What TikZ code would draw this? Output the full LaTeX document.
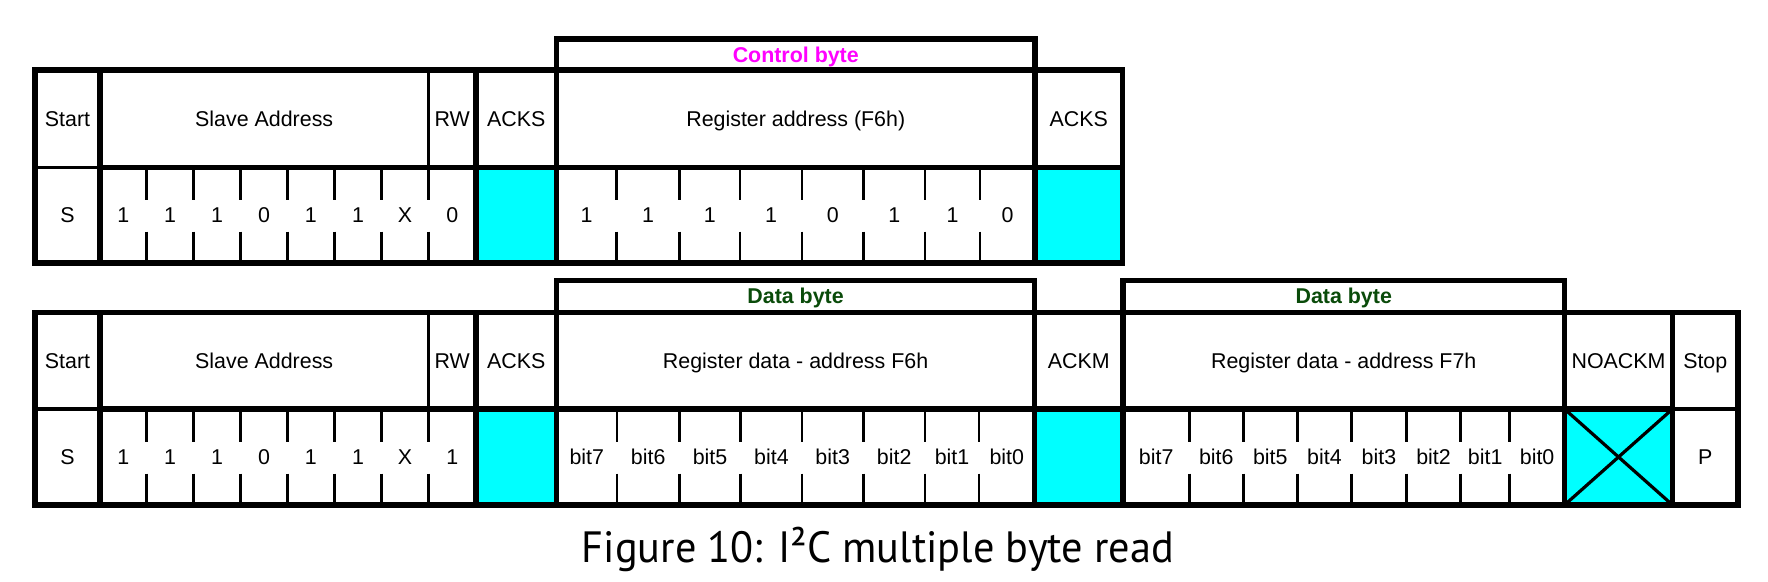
\documentclass[tikz,border=0pt]{standalone}
\usepackage{fontspec}
\setmainfont{Liberation Sans}
\newfontfamily\capfont{PT Sans}
\usepackage{graphicx}
\definecolor{ackcyan}{RGB}{0,255,255}
\definecolor{ctrlmag}{RGB}{255,0,255}
\definecolor{datagreen}{RGB}{10,75,10}
\begin{document}
\begin{tikzpicture}[x=1pt,y=-1pt,
  thickline/.style={line width=5.5pt},
  medline/.style={line width=3.2pt},
  tickline/.style={line width=2.6pt},
  ackfill/.style={fill=ackcyan},
  lbl/.style={font=\fontsize{21.4}{25}\selectfont, inner sep=0pt, text height=15.3pt, text depth=0pt},
  brk/.style={font=\bfseries\fontsize{21.4}{25}\selectfont, inner sep=0pt, text height=15.3pt, text depth=0pt},
]
\useasboundingbox[fill=white] (0,0) rectangle (1768,581);

%% ================= TOP ROW =================
\fill[ackfill] (476,167.5) rectangle (556.5,263);
\fill[ackfill] (1035,167.5) rectangle (1122.5,263);
\foreach \x in {146.7,193.3,240.7,287.3,334.3,381.7,428.3,616.7,679.3,740,802,863.3,925,980}{
  \draw[tickline] (\x,167.5) -- (\x,200);
  \draw[tickline] (\x,231.5) -- (\x,263);
}
\draw[medline] (428.3,70) -- (428.3,167.5);
\draw[medline] (35,167.5) -- (100,167.5);
\draw[thickline] (35,70) rectangle (1122.5,263);
\draw[thickline] (100,167.5) -- (1122.5,167.5);
\foreach \x in {100,476,556.5,1035}{ \draw[thickline] (\x,70) -- (\x,263); }
\draw[thickline] (556.5,70) -- (556.5,39) -- (1035,39) -- (1035,70);

\node[brk, text=ctrlmag] (t-ctrl) at (795.75,54.5) {Control byte};
\node[lbl] (t-start) at (67.5,118.75) {Start};
\node[lbl] (t-slave) at (264.2,118.75) {Slave Address};
\node[lbl] (t-rw) at (452.2,118.75) {RW};
\node[lbl] (t-acks1) at (516.3,118.75) {ACKS};
\node[lbl] (t-reg) at (795.75,118.75) {Register address (F6h)};
\node[lbl] (t-acks2) at (1078.75,118.75) {ACKS};
\node[lbl] (t-s) at (67.5,215.25) {S};
\foreach \x/\v [count=\i] in {123.3/1,170/1,217/1,264/0,310.8/1,358/1,405/X,452.2/0}{
  \node[lbl] (t-a\i) at (\x,215.25) {\v};
}
\foreach \x/\v [count=\i] in {586.6/1,648/1,709.7/1,771/1,832.7/0,894.2/1,952.5/1,1007.5/0}{
  \node[lbl] (t-r\i) at (\x,215.25) {\v};
}

%% ================= BOTTOM ROW =================
\fill[ackfill] (476,409) rectangle (556.7,505);
\fill[ackfill] (1034.5,409) rectangle (1123,505);
\fill[ackfill] (1564.5,409) rectangle (1672.5,505);
\foreach \x in {146.7,193.3,240.7,287.3,334.3,381.7,428.3,617,679.3,740.7,802,863.3,925,979,1189.3,1243.3,1297.2,1351.5,1406.2,1460.7,1509.7}{
  \draw[tickline] (\x,409) -- (\x,441.5);
  \draw[tickline] (\x,473.5) -- (\x,505);
}
\draw[medline] (1564.5,409) -- (1672.5,505);
\draw[medline] (1672.5,409) -- (1564.5,505);
\draw[medline] (428.3,312.3) -- (428.3,409);
\draw[medline] (35,409) -- (100,409);
\draw[medline] (1672.5,409) -- (1738,409);
\draw[thickline] (35,312.3) rectangle (1738,505);
\draw[thickline] (100,409) -- (1672.5,409);
\foreach \x in {100,476,556.7,1034.5,1123,1564.5,1672.5}{ \draw[thickline] (\x,312.3) -- (\x,505); }
\draw[thickline] (556.7,312.3) -- (556.7,280.3) -- (1034.5,280.3) -- (1034.5,312.3);
\draw[thickline] (1123,312.3) -- (1123,280.3) -- (1564.5,280.3) -- (1564.5,312.3);

\node[brk, text=datagreen] (b-data1) at (795.6,296.3) {Data byte};
\node[brk, text=datagreen] (b-data2) at (1343.75,296.3) {Data byte};
\node[lbl] (b-start) at (67.5,360.65) {Start};
\node[lbl] (b-slave) at (264.2,360.65) {Slave Address};
\node[lbl] (b-rw) at (452.2,360.65) {RW};
\node[lbl] (b-acks) at (516.3,360.65) {ACKS};
\node[lbl] (b-reg1) at (795.6,360.65) {Register data - address F6h};
\node[lbl] (b-ackm) at (1078.75,360.65) {ACKM};
\node[lbl] (b-reg2) at (1343.75,360.65) {Register data - address F7h};
\node[lbl] (b-noackm) at (1618.5,360.65) {NOACKM};
\node[lbl] (b-stop) at (1705.25,360.65) {Stop};
\node[lbl] (b-s) at (67.5,457) {S};
\node[lbl] (b-p) at (1705.25,457) {P};
\foreach \x/\v [count=\i] in {123.3/1,170/1,217/1,264/0,310.8/1,358/1,405/X,452.2/1}{
  \node[lbl] (b-a\i) at (\x,457) {\v};
}
\foreach \x/\v [count=\i] in {586.8/bit7,648.2/bit6,710/bit5,771.4/bit4,832.7/bit3,894.2/bit2,952/bit1,1006.8/bit0}{
  \node[lbl] (b-d\i) at (\x,457) {\v};
}
\foreach \x/\v [count=\i] in {1156.2/bit7,1216.3/bit6,1270.3/bit5,1324.4/bit4,1378.9/bit3,1433.5/bit2,1485.2/bit1,1537.1/bit0}{
  \node[lbl] (b-e\i) at (\x,457) {\v};
}

%% ================= CAPTION =================
\node[inner sep=0pt, anchor=base] (caption) at (878,562)
  {\resizebox{592pt}{\height}{\capfont\fontsize{43.8}{50}\selectfont Figure 10: I²C multiple byte read}};
\end{tikzpicture}
\end{document}
